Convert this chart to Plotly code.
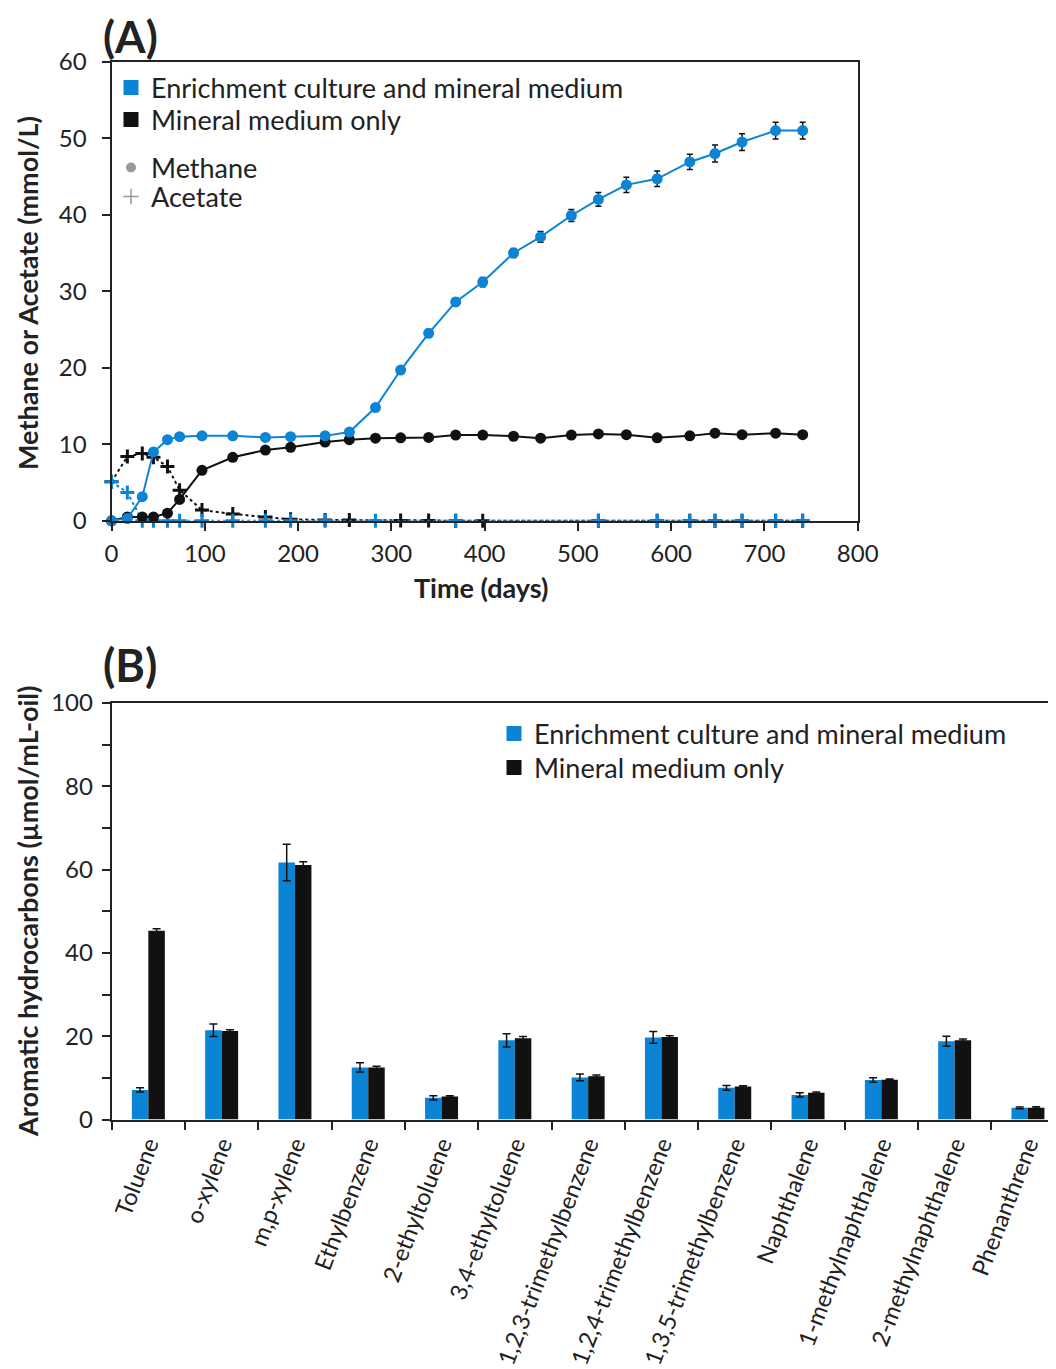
import plotly.graph_objects as go

# ---------------- Panel A data ----------------
days = [0, 17, 33, 45, 60, 73, 97, 130, 165, 192, 229, 255, 283, 310, 340, 369,
        398, 431, 460, 493, 522, 552, 585, 620, 647, 676, 712, 741]
methane_enrich = [0, 0.3, 3.15, 9.0, 10.6, 11.0, 11.1, 11.1, 10.9, 11.0, 11.1, 11.6,
                  14.8, 19.7, 24.5, 28.6, 31.2, 35.0, 37.1, 39.9, 42.0, 43.9, 44.7,
                  46.9, 48.0, 49.5, 51.0, 51.0]
methane_enrich_err = [0.1, 0.1, 0.2, 0.3, 0.3, 0.3, 0.3, 0.3, 0.3, 0.3, 0.3, 0.3,
                      0.4, 0.4, 0.5, 0.5, 0.6, 0.6, 0.7, 0.8, 0.9, 1.0, 1.0,
                      1.0, 1.1, 1.1, 1.1, 1.1]
methane_mineral = [0, 0.5, 0.5, 0.5, 1.0, 2.8, 6.6, 8.3, 9.25, 9.6, 10.3, 10.6,
                   10.8, 10.85, 10.9, 11.2, 11.2, 11.05, 10.8, 11.2, 11.35, 11.25,
                   10.85, 11.1, 11.45, 11.25, 11.45, 11.25]

acet_days_mineral = [0, 17, 33, 45, 60, 73, 97, 130, 165, 192, 229, 255, 310, 340,
                     369, 398, 522, 585, 620, 647, 676, 712, 741]
acetate_mineral = [5.1, 8.4, 8.8, 8.3, 7.1, 4.0, 1.4, 0.9, 0.5, 0.2, 0.1, 0.1, 0.05,
                   0.05, 0, 0, 0, 0, 0, 0, 0, 0, 0]
acet_days_enrich = [0, 17, 33, 45, 60, 73, 97, 130, 165, 192, 229, 283, 369, 522,
                    585, 620, 647, 676, 712, 741]
acetate_enrich = [5.1, 3.7, 0, 0, 0, 0, 0, 0, 0, 0, 0, 0, 0, 0, 0, 0, 0, 0, 0, 0]

# ---------------- Panel B data ----------------
compounds = ["Toluene", "o-xylene", "m,p-xylene", "Ethylbenzene", "2-ethyltoluene",
             "3,4-ethyltoluene", "1,2,3-trimethylbenzene", "1,2,4-trimethylbenzene",
             "1,3,5-trimethylbenzene", "Naphthalene", "1-methylnaphthalene",
             "2-methylnaphthalene", "Phenanthrene"]
arom_enrich = [7.1, 21.4, 61.7, 12.5, 5.2, 19.0, 10.1, 19.7, 7.6, 5.9, 9.5, 18.8, 2.8]
arom_enrich_err = [0.5, 1.5, 4.4, 1.1, 0.5, 1.6, 0.8, 1.4, 0.55, 0.5, 0.55, 1.2, 0.2]
arom_mineral = [45.3, 21.25, 61.1, 12.5, 5.5, 19.5, 10.4, 19.8, 7.9, 6.4, 9.55, 19.0, 2.85]
arom_mineral_err = [0.5, 0.3, 0.8, 0.3, 0.2, 0.4, 0.3, 0.3, 0.2, 0.2, 0.2, 0.3, 0.2]

BLUE = "#0b84d6"
BLACK = "#111111"
AXC = "#222222"
FONT = "Lato"
OFF = 8                      # page body margin
W, H = 1056 - OFF, 1369 - OFF
LEGSIZE = 27


def px(xp):
    """page x pixel -> paper fraction"""
    return (xp - OFF) / W


def py(yp):
    """page y pixel (from top) -> paper fraction"""
    return 1 - (yp - OFF) / H


fig = go.Figure()

# Panel A traces
fig.add_trace(go.Scatter(x=acet_days_mineral, y=acetate_mineral, mode="lines+markers",
                         line=dict(color=BLACK, width=2, dash="dot"),
                         marker=dict(symbol="cross-thin", size=10,
                                     line=dict(color=BLACK, width=3)),
                         showlegend=False, cliponaxis=False, xaxis="x", yaxis="y"))
fig.add_trace(go.Scatter(x=acet_days_enrich, y=acetate_enrich, mode="lines+markers",
                         line=dict(color=BLUE, width=2, dash="dot"),
                         marker=dict(symbol="cross-thin", size=10,
                                     line=dict(color=BLUE, width=3)),
                         showlegend=False, cliponaxis=False, xaxis="x", yaxis="y"))
fig.add_trace(go.Scatter(x=days, y=methane_mineral, mode="lines+markers",
                         line=dict(color=BLACK, width=2),
                         marker=dict(symbol="circle", size=11, color=BLACK),
                         showlegend=False, cliponaxis=False, xaxis="x", yaxis="y"))
fig.add_trace(go.Scatter(x=days, y=methane_enrich, mode="lines+markers",
                         line=dict(color=BLUE, width=2),
                         marker=dict(symbol="circle", size=11, color=BLUE),
                         error_y=dict(type="data", array=methane_enrich_err,
                                      color=BLACK, thickness=1.5, width=3),
                         showlegend=False, cliponaxis=False, xaxis="x", yaxis="y"))

# Legend entries (one legend box per row so rows sit where the reference has them)
leg_items = [
    ("Enrichment culture and mineral medium", dict(symbol="square", size=15, color=BLUE), "legend", 111, 88),
    ("Mineral medium only", dict(symbol="square", size=15, color=BLACK), "legend2", 111, 120),
    ("Methane", dict(symbol="circle", size=10, color="#999999"), "legend3", 111, 168),
    ("Acetate", dict(symbol="cross-thin", size=11, color="#999999",
                     line=dict(color="#999999", width=1.5)), "legend4", 111, 197),
    ("Enrichment culture and mineral medium", dict(symbol="square", size=15, color=BLUE), "legend5", 494, 734),
    ("Mineral medium only", dict(symbol="square", size=15, color=BLACK), "legend6", 494, 768),
]
legend_layouts = {}
for name, mk, lg, lx, ly in leg_items:
    fig.add_trace(go.Scatter(x=[None], y=[None], mode="markers", name=name, marker=mk,
                             showlegend=True, legend=lg, xaxis="x", yaxis="y"))
    legend_layouts[lg] = dict(x=px(lx), y=py(ly), xanchor="left", yanchor="middle",
                              bgcolor="rgba(0,0,0,0)", borderwidth=0,
                              font=dict(family=FONT, size=LEGSIZE, color=AXC))

# Panel B traces
fig.add_trace(go.Bar(x=compounds, y=arom_enrich, name="Enrichment culture and mineral medium",
                     marker=dict(color=BLUE, line=dict(width=0)),
                     error_y=dict(type="data", array=arom_enrich_err, color=BLACK,
                                  thickness=1.5, width=4),
                     showlegend=False, xaxis="x2", yaxis="y2"))
fig.add_trace(go.Bar(x=compounds, y=arom_mineral, name="Mineral medium only",
                     marker=dict(color=BLACK, line=dict(width=0)),
                     error_y=dict(type="data", array=arom_mineral_err, color=BLACK,
                                  thickness=1.5, width=4),
                     showlegend=False, xaxis="x2", yaxis="y2"))

tickfont = dict(family=FONT, size=24, color=AXC)
common = dict(showline=True, linecolor=AXC, linewidth=2, ticks="outside", ticklen=8,
              tickwidth=2, tickcolor=AXC, showgrid=False, zeroline=False,
              automargin=False)

# panel B category scale: 73.3 px per category starting at page x 111.7
cat_px = 73.3
b_left, b_right = 111.7, 1056
b_range_end = -0.5 + (b_right - b_left) / cat_px


def ann(text, xp, yp, size, angle=0):
    return dict(text=text, x=px(xp), y=py(yp), xref="paper", yref="paper",
                xanchor="center", yanchor="middle", showarrow=False,
                textangle=angle, font=dict(family=FONT, size=size, color=AXC))


fig.update_layout(
    width=W, height=H,
    margin=dict(l=0, r=0, t=0, b=0, autoexpand=False),
    paper_bgcolor="white", plot_bgcolor="white",
    font=dict(family=FONT, size=24, color=AXC),
    barmode="group", bargap=0.55, bargroupgap=0,
    xaxis=dict(domain=[px(111.5), px(857.7)], anchor="y", range=[0, 800],
               tickvals=list(range(0, 801, 100)), mirror=True, tickfont=tickfont,
               ticklabelstandoff=2, **common),
    yaxis=dict(domain=[py(520.8), py(61.7)], anchor="x", range=[0, 60],
               tickvals=list(range(0, 61, 10)), mirror=True, tickfont=tickfont,
               ticklabelstandoff=10, **common),
    xaxis2=dict(domain=[px(b_left), px(b_right)], anchor="y2", type="category",
                range=[-0.5, b_range_end], tickson="boundaries", tickangle=-69,
                mirror=True, tickfont=dict(family=FONT, size=23.5, color=AXC),
                **common),
    yaxis2=dict(domain=[py(1119.5), py(703)], anchor="x2", range=[0, 100],
                tickvals=list(range(0, 101, 10)),
                ticktext=[str(v) if v % 20 == 0 else "" for v in range(0, 101, 10)],
                mirror=False, tickfont=tickfont, ticklabelstandoff=4, **common),
    annotations=[
        ann("<b>(A)</b>", 130, 36, 44),
        ann("<b>(B)</b>", 130, 665, 45),
        ann("<b>Time (days)</b>", 481, 587, 27),
        ann("<b>Methane or Acetate (mmol/L)</b>", 27, 293, 27, -90),
        ann("<b>Aromatic hydrocarbons (µmol/mL-oil)</b>", 27, 912, 27, -90),
    ],
    **legend_layouts,
)

fig.write_html("out.html")
